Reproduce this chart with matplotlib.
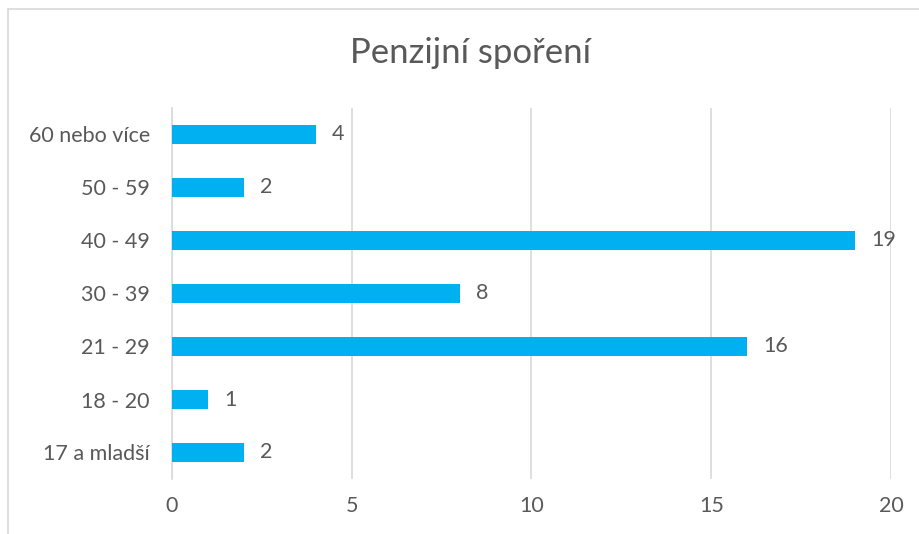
import matplotlib
matplotlib.use("Agg")
import matplotlib.pyplot as plt
from matplotlib.lines import Line2D

categories = ["17 a mladší", "18 - 20", "21 - 29", "30 - 39", "40 - 49", "50 - 59", "60 nebo více"]
values = [2, 1, 16, 8, 19, 2, 4]
x_ticks = [0, 5, 10, 15, 20]

plt.rcParams['font.family'] = ['Lato', 'DejaVu Sans']
text_col = "#595959"

fig = plt.figure(figsize=(9.2, 5.34), dpi=100)
ax = fig.add_axes([172 / 920, 1 - 479 / 534, (891 - 172) / 920, (479 - 108) / 534])

ypos = range(len(categories))
ax.barh(ypos, values, height=0.34, color="#00B0F0", zorder=3)
for y, v in zip(ypos, values):
    ax.text(v + 0.45, y, str(v), va="center", ha="left", fontsize=15.5, color=text_col)

ax.set_xlim(0, 20)
ax.set_ylim(-0.5, len(categories) - 0.5)
ax.set_xticks(x_ticks)
ax.set_yticks(list(ypos))
ax.set_yticklabels(categories)
ax.tick_params(axis="both", length=0, labelsize=15.5, colors=text_col)
ax.tick_params(axis="x", pad=12)
ax.tick_params(axis="y", pad=16)
ax.grid(axis="x", color="#d9d9d9", linewidth=1.2, zorder=0)
for s in ["top", "right", "bottom"]:
    ax.spines[s].set_visible(False)
ax.spines["left"].set_color("#d9d9d9")
ax.spines["left"].set_linewidth(1.2)

fig.text(471 / 920, 1 - 53 / 534, "Penzijní spoření", ha="center", va="center", fontsize=25, color=text_col)

# chart frame
fig.add_artist(Line2D([8 / 920, 1], [1 - 9 / 534, 1 - 9 / 534], color="#d9d9d9", lw=1.2, transform=fig.transFigure))
fig.add_artist(Line2D([8 / 920, 8 / 920], [0, 1 - 9 / 534], color="#d9d9d9", lw=1.2, transform=fig.transFigure))

fig.savefig("out.png", dpi=100)
